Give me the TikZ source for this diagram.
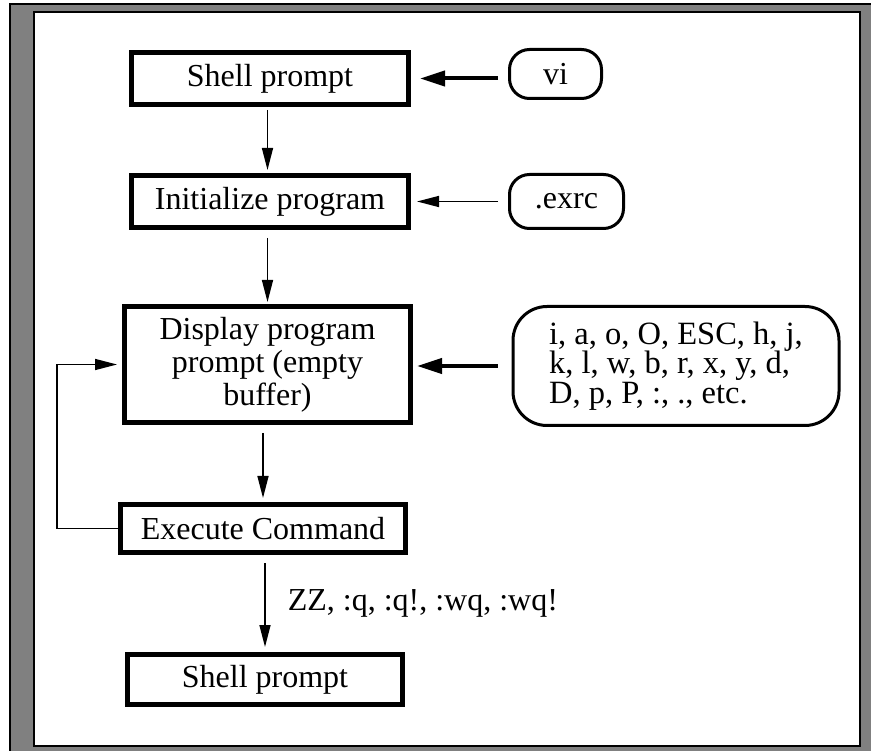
\documentclass[tikz,border=0pt]{standalone}
\usepackage{fontspec}
\setmainfont{Liberation Serif}
\usetikzlibrary{arrows.meta,calc}
\definecolor{framegray}{RGB}{128,128,128}

\begin{document}
\begin{tikzpicture}[x=1pt,y=-1pt,
  txt/.style={font=\fontsize{32}{33}\selectfont, inner sep=0pt},
  mainbox/.style={txt, draw, line width=5pt, align=center},
  inputbox/.style={txt, draw, line width=3pt, rounded corners=20pt},
  thinarrow/.style={line width=1.5pt, -{Triangle[length=22pt,width=11pt]}},
  thickarrow/.style={line width=4pt, -{Triangle[length=25pt,width=15pt]}}]

\useasboundingbox (0,0) rectangle (871,751);

% grey frame with a white panel inside
\fill[framegray] (9,4) rectangle (880,760);
\draw[line width=2pt] (10,760) -- (10,4.5) -- (880,4.5);
\draw[fill=white, line width=2pt] (34.3,11.8) rectangle (859.7,745.5);

% main flow
\node[mainbox, minimum width=277pt, minimum height=52pt] (shell1) at (270,78.5) {Shell prompt};
\node[mainbox, minimum width=277pt, minimum height=52pt] (init) at (270,201.5) {Initialize program};
\node[mainbox, minimum width=286pt, minimum height=116pt] (disp) at (267.5,364.5) {Display program\\prompt (empty\\buffer)};
\node[mainbox, minimum width=285pt, minimum height=48pt] (exec) at (263,528.5) {Execute Command};
\node[mainbox, minimum width=275pt, minimum height=50pt] (shell2) at (265,679.5) {Shell prompt};

% inputs
\node[inputbox, minimum width=92pt, minimum height=49pt] (vi) at (555.5,74) {vi};
\node[inputbox, minimum width=114pt, minimum height=54pt] (exrc) at (566.5,201.5) {.exrc};
\node[inputbox, rounded corners=34pt, minimum width=326pt, minimum height=119pt,
      align=left, font=\fontsize{32.5}{29.5}\selectfont] (keys) at (676,366)
  {i, a, o, O, ESC, h, j,\\k, l, w, b, r, x, y, d,\\D, p, P, :, ., etc.};

% input arrows
\draw[thickarrow, shorten <=10pt, shorten >=9pt] (vi.west |- shell1.east) -- (shell1.east);
\draw[thinarrow, shorten <=10pt, shorten >=6pt] (exrc.west) -- (init.east);
\draw[thickarrow, shorten <=14pt, shorten >=4pt] (keys.west) -- (keys.west -| disp.east);

% flow arrows
\draw[thinarrow, shorten <=3pt, shorten >=3pt] (shell1.south -| disp.north) -- (init.north -| disp.north);
\draw[thinarrow, shorten <=8pt, shorten >=2pt] (init.south -| disp.north) -- (disp.north);
\draw[thinarrow, shorten <=8pt, shorten >=4pt] (disp.south -| exec.north) -- (exec.north);
\draw[thinarrow, shorten <=8pt, shorten >=5pt] (exec.south -| shell2.north) -- (shell2.north)
  node[midway, right=22pt, txt] (zz) {ZZ, :q, :q!, :wq, :wq!};

% loop back to the prompt
\draw[thinarrow, shorten >=5pt] (exec.west) -- ++(-61,0) |- (disp.west);
\end{tikzpicture}
\end{document}
